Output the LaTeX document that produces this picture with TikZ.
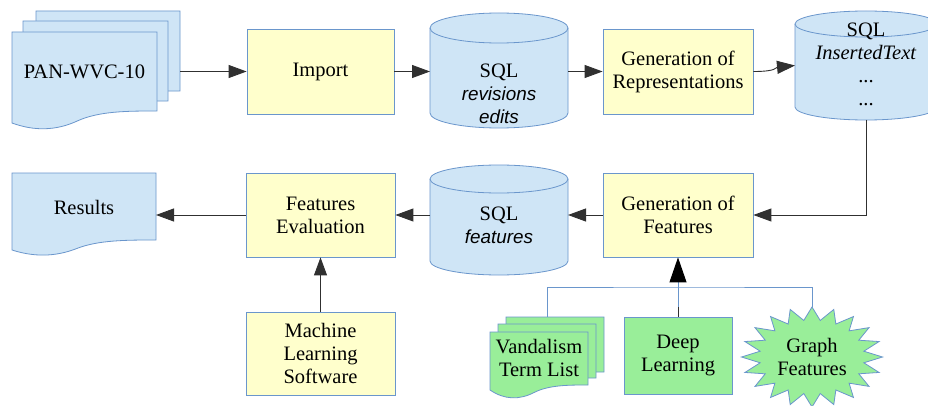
\documentclass[tikz,border=0pt]{standalone}
\usepackage{fontspec}
\setmainfont{Liberation Serif}
\newfontfamily\italsans{Liberation Sans}[Scale=0.92]
\usetikzlibrary{arrows.meta}

\definecolor{docblue}{HTML}{CFE5F6}
\definecolor{boxyellow}{HTML}{FFFFCC}
\definecolor{leafgreen}{HTML}{99EE99}
\definecolor{edgeblue}{HTML}{6A96CC}
\definecolor{wire}{HTML}{303030}

% document sheet: fill, x1, x2, top, left bottom, lowest point, right bottom
\newcommand\docpage[7]{%
  \path[sheet, fill=#1] (#2,#4) -- (#3,#4) -- (#3,#7)
    .. controls ({#2+0.8*(#3-#2)},#7) and ({#2+0.6*(#3-#2)},#7)
    .. ({#2+0.45*(#3-#2)},{(#6+#7)/2})
    .. controls ({#2+0.3*(#3-#2)},#6) and ({#2+0.15*(#3-#2)},#6)
    .. (#2,#5) -- cycle;}

% database drum: centre x, x radius, top rim y, bottom rim y, y radius
\newcommand\dbcyl[5]{%
  \path[sheet, fill=docblue] ({#1-#2},#3) -- ({#1-#2},#4)
    arc[start angle=180, end angle=360, x radius=#2pt, y radius=#5pt]
    -- ({#1+#2},#3)
    arc[start angle=0, end angle=180, x radius=#2pt, y radius=#5pt] -- cycle;
  \draw[sheet] ({#1-#2},#3)
    arc[start angle=180, end angle=360, x radius=#2pt, y radius=#5pt];}

\tikzset{
  sheet/.style={draw=edgeblue, line width=0.8pt},
  every node/.style={font=\fontsize{20.5}{23}\selectfont, align=center},
  area/.style={rectangle, inner sep=0pt, outer sep=0pt},
  procbox/.style={rectangle, draw=edgeblue, line width=0.8pt, fill=boxyellow,
                  inner sep=0pt},
  leafbox/.style={rectangle, draw=edgeblue, line width=0.8pt, fill=leafgreen,
                  inner sep=0pt},
  label/.style={inner sep=0pt},
  arr/.style={draw=wire, line width=0.9pt, -{Triangle[length=18pt, width=13pt]}},
  wireline/.style={draw=wire, line width=0.9pt},
  branch/.style={draw=edgeblue, line width=1pt},
}

\begin{document}
\begin{tikzpicture}[x=1pt, y=1pt]
\clip (0,0) rectangle (928,405);
\fill[white] (0,0) rectangle (928,405);

% ---------- input corpus (stack of sheets)
\docpage{docblue}{36}{180}{394}{300}{296}{314}
\docpage{docblue}{23}{168}{384}{290}{285}{304}
\docpage{docblue}{12}{157}{373}{282}{274}{294}
\node[area, minimum width=168pt, minimum height=120pt] (pan) at (96,334) {};
\node[label] (pantxt) at (84.5,333) {PAN-WVC-10};

% ---------- processing boxes
\node[procbox, minimum width=147pt, minimum height=85pt] (imp) at (320.5,333.5) {Import};
\node[procbox, minimum width=150pt, minimum height=85pt] (rep) at (678,333.5)
  {Generation of\\Representations};
\node[procbox, minimum width=150pt, minimum height=84pt] (gf) at (678,190)
  {Generation of\\Features};
\node[procbox, minimum width=149pt, minimum height=84pt] (fe) at (320.5,190)
  {Features\\Evaluation};
\node[procbox, minimum width=149pt, minimum height=83pt] (ml) at (320.5,51.5)
  {Machine\\Learning\\Software};

% ---------- databases
\dbcyl{499}{69}{377}{292}{15}
\node[area, minimum width=138pt, minimum height=115pt] (sql1) at (499,334.5) {};
\node[label] (sql1txt) at (499,311) {SQL\\{\italsans\itshape revisions}\\{\italsans\itshape edits}};

\dbcyl{499}{69}{226}{144}{14}
\node[area, minimum width=138pt, minimum height=110pt] (sql2) at (499,185) {};
\node[label] (sql2txt) at (499,180) {SQL\\{\italsans\itshape features}};

\dbcyl{866}{71}{381}{298}{13}
\node[area, minimum width=142pt, minimum height=109pt] (sql3) at (866,339.5) {};
\node[label] (sql3txt) at (866,341) {SQL\\\textit{InsertedText}\\...\\...};

% ---------- results sheet
\docpage{docblue}{12}{156}{232}{155}{148}{165}
\node[area, minimum width=144pt, minimum height=84pt] (res) at (84,190) {};
\node[label] (restxt) at (84,198) {Results};

% ---------- feature sources
\docpage{leafgreen}{506}{604}{88}{40}{36}{33}
\docpage{leafgreen}{498}{596}{81}{30}{26}{27}
\docpage{leafgreen}{490}{588}{73}{15}{5}{20}
\node[area, minimum width=114pt, minimum height=83pt] (vand) at (547,46.5) {};
\node[label] (vandtxt) at (539,47) {Vandalism\\Term List};

\node[leafbox, minimum width=108pt, minimum height=77pt] (deep) at (678,49.5)
  {Deep\\Learning};

\node[area, minimum width=141pt, minimum height=100pt] (graph) at (812,48) {};
\begin{scope}[shift={(graph.center)}]
  \draw[sheet, fill=leafgreen] plot[samples=40, domain=0:39, variable=\k]
    ({(mod(\k,2)==0 ? 70.5 : 52.5)*cos(90+\k*9)},
     {(mod(\k,2)==0 ? 50 : 37)*sin(90+\k*9)}) -- cycle;
\end{scope}
\node[label] (graphtxt) at (812,48) {Graph\\Features};

% ---------- main flow
\draw[arr] (imp.west -| pan.east) -- (imp.west);
\draw[arr] (imp.east) -- (imp.east -| sql1.west);
\draw[arr] (sql1.east |- rep.west) -- (rep.west);
\draw[arr] (rep.east) .. controls +(24,0) and +(-20,-2) .. (sql3.west);
\draw[arr] (sql3.south) |- (gf.east);
\draw[arr] (gf.west) -- (gf.west -| sql2.east);
\draw[arr] (sql2.west |- fe.east) -- (fe.east);
\draw[arr] (fe.west) -- (fe.west -| res.east);
\draw[arr] (ml.north) -- (fe.south);

% ---------- feature sources joining into feature generation
\coordinate (jn) at (678,118);
\draw[branch] (vand.north) |- (jn) -| (graph.north);
\draw[branch] (jn) -- (deep.north);
\draw[wireline] (deep.north) -- ++(0,10);
\draw[branch, -{Triangle[length=25pt, width=17pt, color=black]}] (jn) -- (gf.south);
\end{tikzpicture}
\end{document}
